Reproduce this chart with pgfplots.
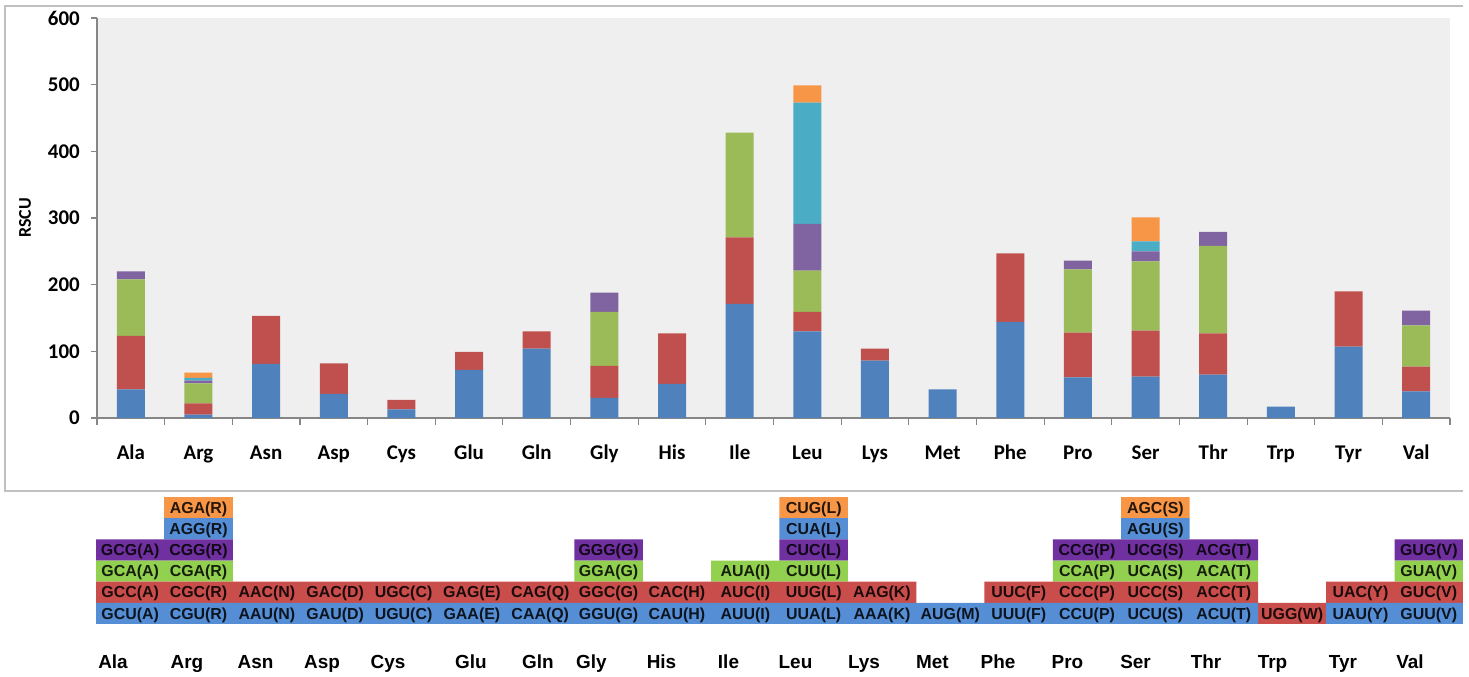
\documentclass[border=0pt]{standalone}
\usepackage{pgfplots}
\pgfplotsset{compat=1.18}
\usepackage{pgfplotstable}
\usepackage{fontspec}
\setmainfont{Carlito}
\newfontfamily\arialfont{Liberation Sans}

% bar colours of the RSCU chart
\definecolor{sBlue}{RGB}{79,129,189}
\definecolor{sRed}{RGB}{192,80,77}
\definecolor{sGreen}{RGB}{155,187,89}
\definecolor{sPurple}{RGB}{128,100,162}
\definecolor{sTeal}{RGB}{75,172,198}
\definecolor{sOrange}{RGB}{247,150,70}
% codon table colours
\definecolor{tBlue}{RGB}{85,142,213}
\definecolor{tRed}{RGB}{200,77,75}
\definecolor{tGreen}{RGB}{146,208,80}
\definecolor{tPurple}{RGB}{112,48,160}
\definecolor{tOrange}{RGB}{247,150,70}
\definecolor{plotbg}{RGB}{239,239,239}
\definecolor{axisgray}{RGB}{134,134,134}
\definecolor{framegray}{RGB}{192,192,192}

% RSCU per amino acid, one column per synonymous codon (stack order)
\pgfplotstableread{
cat  S1  S2  S3  S4  S5  S6
0.5  43  80  85  12  0   0
1.5  5   17  30  4   4   8
2.5  81  72  0   0   0   0
3.5  36  46  0   0   0   0
4.5  13  14  0   0   0   0
5.5  72  27  0   0   0   0
6.5  104 26  0   0   0   0
7.5  30  48  81  29  0   0
8.5  51  76  0   0   0   0
9.5  171 100 157 0   0   0
10.5 130 29  62  70  182 26
11.5 86  18  0   0   0   0
12.5 43  0   0   0   0   0
13.5 144 103 0   0   0   0
14.5 61  67  95  13  0   0
15.5 62  69  104 15  15  36
16.5 65  62  131 21  0   0
17.5 17  0   0   0   0   0
18.5 107 83  0   0   0   0
19.5 40  37  62  22  0   0
}\rscu

% occupied cells of the codon table (row 1 at the bottom)
\pgfplotstableread{
x    R1 R2 R3 R4 R5 R6
0.5  1  1  1  1  0  0
1.5  1  1  1  1  1  1
2.5  1  1  0  0  0  0
3.5  1  1  0  0  0  0
4.5  1  1  0  0  0  0
5.5  1  1  0  0  0  0
6.5  1  1  0  0  0  0
7.5  1  1  1  1  0  0
8.5  1  1  0  0  0  0
9.5  1  1  1  0  0  0
10.5 1  1  1  1  1  1
11.5 1  1  0  0  0  0
12.5 1  0  0  0  0  0
13.5 1  1  0  0  0  0
14.5 1  1  1  1  0  0
15.5 1  1  1  1  1  1
16.5 1  1  1  1  0  0
17.5 0  1  0  0  0  0
18.5 1  1  0  0  0  0
19.5 1  1  1  1  0  0
}\cells

% codon labels placed in the cells
\pgfplotstableread{
x    y   label
0.5  0.5 GCU(A)
1.5  0.5 CGU(R)
2.5  0.5 AAU(N)
3.5  0.5 GAU(D)
4.5  0.5 UGU(C)
5.5  0.5 GAA(E)
6.5  0.5 CAA(Q)
7.5  0.5 GGU(G)
8.5  0.5 CAU(H)
9.5  0.5 AUU(I)
10.5 0.5 UUA(L)
11.5 0.5 AAA(K)
12.5 0.5 AUG(M)
13.5 0.5 UUU(F)
14.5 0.5 CCU(P)
15.5 0.5 UCU(S)
16.5 0.5 ACU(T)
17.5 0.5 UGG(W)
18.5 0.5 UAU(Y)
19.5 0.5 GUU(V)
0.5  1.5 GCC(A)
1.5  1.5 CGC(R)
2.5  1.5 AAC(N)
3.5  1.5 GAC(D)
4.5  1.5 UGC(C)
5.5  1.5 GAG(E)
6.5  1.5 CAG(Q)
7.5  1.5 GGC(G)
8.5  1.5 CAC(H)
9.5  1.5 AUC(I)
10.5 1.5 UUG(L)
11.5 1.5 AAG(K)
13.5 1.5 UUC(F)
14.5 1.5 CCC(P)
15.5 1.5 UCC(S)
16.5 1.5 ACC(T)
18.5 1.5 UAC(Y)
19.5 1.5 GUC(V)
0.5  2.5 GCA(A)
1.5  2.5 CGA(R)
7.5  2.5 GGA(G)
9.5  2.5 AUA(I)
10.5 2.5 CUU(L)
14.5 2.5 CCA(P)
15.5 2.5 UCA(S)
16.5 2.5 ACA(T)
19.5 2.5 GUA(V)
0.5  3.5 GCG(A)
1.5  3.5 CGG(R)
7.5  3.5 GGG(G)
10.5 3.5 CUC(L)
14.5 3.5 CCG(P)
15.5 3.5 UCG(S)
16.5 3.5 ACG(T)
19.5 3.5 GUG(V)
1.5  4.5 AGG(R)
10.5 4.5 CUA(L)
15.5 4.5 AGU(S)
1.5  5.5 AGA(R)
10.5 5.5 CUG(L)
15.5 5.5 AGC(S)
}\codons

% amino-acid names under the table
\pgfplotstableread{
x      y      label
0.249  -2.126 Ala
1.331  -2.126 Arg
2.334  -2.126 Asn
3.307  -2.126 Asp
4.272  -2.126 Cys
5.486  -2.126 Glu
6.467  -2.126 Gln
7.249  -2.126 Gly
8.274  -2.126 His
9.254  -2.126 Ile
10.234 -2.126 Leu
11.236 -2.126 Lys
12.238 -2.126 Met
13.197 -2.126 Phe
14.214 -2.126 Pro
15.209 -2.126 Ser
16.240 -2.126 Thr
17.213 -2.126 Trp
18.244 -2.126 Tyr
19.225 -2.126 Val
}\aanames

\begin{document}
\begin{tikzpicture}
\useasboundingbox (0,0) rectangle (1469bp,677bp);

% chart frame
\draw[framegray, line width=1.6bp] (1463bp,671bp) -- (5bp,671bp) -- (5bp,186bp) -- (1463bp,186bp);

% stacked RSCU bars
\begin{axis}[
  at={(97bp,259bp)}, anchor=south west,
  scale only axis, width=1353bp, height=400bp,
  xmin=0, xmax=20, ymin=0, ymax=600,
  ybar stacked, bar width=0.414,
  axis background/.style={fill=plotbg},
  axis x line*=bottom, axis y line*=left,
  axis line style={draw=axisgray, line width=1.2bp},
  xtick={0.5,1.5,...,19.5},
  xticklabels={Ala,Arg,Asn,Asp,Cys,Glu,Gln,Gly,His,Ile,Leu,Lys,Met,Phe,Pro,Ser,Thr,Trp,Tyr,Val},
  minor xtick={0,1,...,20},
  major x tick style={draw=none},
  minor x tick style={draw=axisgray, line width=1.1bp},
  ytick={0,100,...,600},
  y tick style={draw=axisgray, line width=1.1bp},
  tick align=outside, major tick length=6bp, minor tick length=7bp,
  /pgf/number format/assume math mode=true,
  xticklabel style={font=\fontsize{21}{24}\selectfont\bfseries, anchor=base, yshift=-36bp, inner sep=0pt},
  yticklabel style={font=\fontsize{21}{24}\selectfont\bfseries, anchor=east, inner sep=0pt, xshift=-11bp},
  ylabel={RSCU},
  every axis y label/.style={at={(rel axis cs:0,0.5)}, xshift=-72bp, rotate=90, anchor=center,
    font=\fontsize{18}{20}\selectfont\bfseries},
]
\addplot[fill=sBlue, draw=none] table[x=cat, y=S1] {\rscu};
\addplot[fill=sRed, draw=none] table[x=cat, y=S2] {\rscu};
\addplot[fill=sGreen, draw=none] table[x=cat, y=S3] {\rscu};
\addplot[fill=sPurple, draw=none] table[x=cat, y=S4] {\rscu};
\addplot[fill=sTeal, draw=none] table[x=cat, y=S5] {\rscu};
\addplot[fill=sOrange, draw=none] table[x=cat, y=S6] {\rscu};
\end{axis}

% codon table cells
\begin{axis}[
  at={(96bp,53bp)}, anchor=south west,
  scale only axis, width=1367bp, height=127bp,
  xmin=0, xmax=20, ymin=0, ymax=6,
  hide axis, ybar stacked, bar width=1.004,
]
\addplot[fill=tBlue, draw=none] table[x=x, y=R1] {\cells};
\addplot[fill=tRed, draw=none] table[x=x, y=R2] {\cells};
\addplot[fill=tGreen, draw=none] table[x=x, y=R3] {\cells};
\addplot[fill=tPurple, draw=none] table[x=x, y=R4] {\cells};
\addplot[fill=tBlue, draw=none] table[x=x, y=R5] {\cells};
\addplot[fill=tOrange, draw=none] table[x=x, y=R6] {\cells};
\end{axis}

% codon labels and amino-acid names
\begin{axis}[
  at={(96bp,53bp)}, anchor=south west,
  scale only axis, width=1367bp, height=127bp,
  xmin=0, xmax=20, ymin=0, ymax=6,
  hide axis, clip=false,
]
\addplot[draw=none, mark=none, nodes near coords, point meta=explicit symbolic,
  every node near coord/.append style={font=\arialfont\bfseries\fontsize{16}{16}\selectfont,
    anchor=base, yshift=-5.7bp, inner sep=0pt, text=black, text opacity=0.85}]
  table[x=x, y=y, meta=label] {\codons};
\addplot[draw=none, mark=none, nodes near coords, point meta=explicit symbolic,
  every node near coord/.append style={font=\arialfont\bfseries\fontsize{19}{19}\selectfont,
    anchor=base, inner sep=0pt, text=black}]
  table[x=x, y=y, meta=label] {\aanames};
\end{axis}
\end{tikzpicture}
\end{document}
